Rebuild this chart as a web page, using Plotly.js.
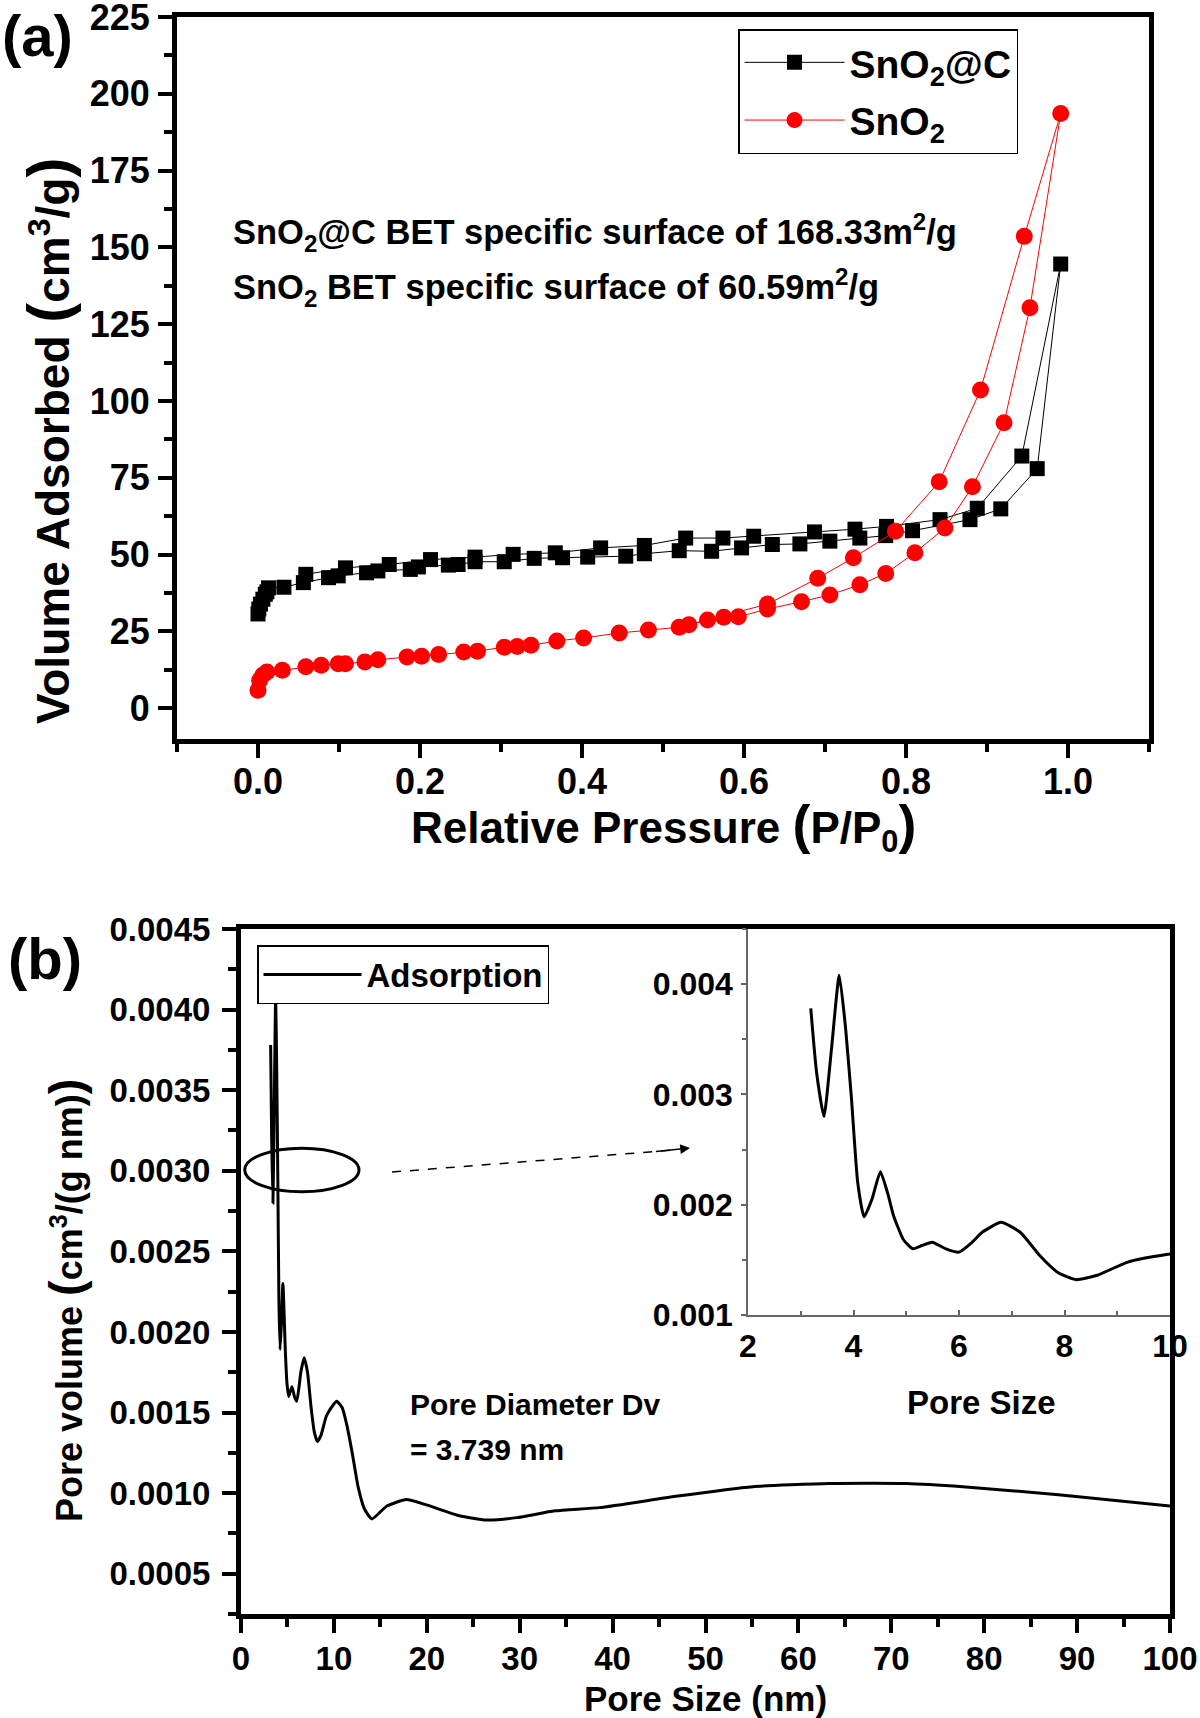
<!DOCTYPE html>
<html><head><meta charset="utf-8">
<script src="https://cdn.plot.ly/plotly-3.0.1.min.js"></script>
<style>html,body{margin:0;padding:0;background:#fff}#chart{width:1200px;height:1718px}</style>
</head><body><div id="chart"></div>
<script>
// ---------- Panel (a): N2 adsorption-desorption isotherms ----------
// SnO2@C adsorption branch
const sncAdsP = [0.000,0.001,0.003,0.006,0.009,0.011,0.013,0.032,0.056,0.087,0.099,0.134,0.148,0.188,0.198,0.235,0.247,0.268,0.304,0.341,0.376,0.407,0.454,0.477,0.520,0.560,0.597,0.635,0.669,0.706,0.743,0.775,0.808,0.879,0.917,0.962,0.991];
const sncAdsV = [30.7,32.3,33.9,35.5,37.1,37.9,39.2,39.4,40.9,42.5,43.1,44.1,44.7,45.2,46.0,46.6,46.8,47.7,47.7,48.8,49.0,49.2,49.5,50.3,51.3,51.1,52.2,53.3,53.5,54.4,55.4,56.2,57.8,61.4,64.9,78.0,144.6];
// SnO2@C desorption branch
const sncDesP = [0.943,0.888,0.842,0.776,0.737,0.687,0.612,0.574,0.528,0.477,0.423,0.367,0.315,0.268,0.213,0.162,0.108,0.059];
const sncDesV = [82.1,65.1,61.4,59.2,58.3,57.4,56.0,55.4,55.4,53.0,52.2,50.6,50.1,49.2,48.4,46.8,45.7,43.6];
// SnO2 adsorption branch
const snAdsP = [0.000,0.002,0.006,0.011,0.030,0.059,0.078,0.099,0.108,0.132,0.148,0.184,0.202,0.223,0.254,0.271,0.304,0.320,0.337,0.369,0.402,0.446,0.482,0.520,0.555,0.575,0.593,0.629,0.671,0.706,0.743,0.775,0.811,0.848,0.882,0.921,0.953,0.991];
const snAdsV = [5.9,9.1,10.8,11.8,12.4,13.5,14.0,14.5,14.5,15.1,15.8,16.7,16.9,17.5,18.3,18.6,19.9,20.1,20.5,21.9,22.9,24.5,25.5,26.4,28.7,29.6,29.8,32.3,34.7,36.9,40.2,43.9,50.6,58.7,72.1,92.9,130.4,193.6];
// SnO2 desorption branch
const snDesP = [0.946,0.892,0.841,0.787,0.735,0.691,0.629,0.532];
const snDesV = [153.6,103.6,73.7,57.6,49.0,42.3,33.9,27.2];

// ---------- Panel (b): pore size distribution ----------
const poreSize = [3.19,3.30,3.44,3.58,3.73,3.85,3.96,4.08,4.20,4.35,4.51,4.65,4.76,4.95,5.13,5.30,5.49,5.75,6.00,6.25,6.44,6.80,7.16,7.53,7.89,8.22,8.62,9.20,9.96,10.3,10.9,11.4,12.0,12.6,13.3,14.1,15.7,17.8,19.8,23.5,26.4,29.7,33.8,38.6,46.8,55.1,63.3,71.6,77.7,88.0,100.0];
const poreVolume = [0.00378,0.00320,0.00280,0.00340,0.00408,0.00360,0.00297,0.00220,0.00189,0.00205,0.00230,0.00210,0.00190,0.00168,0.00160,0.00163,0.00166,0.00160,0.00157,0.00166,0.00175,0.00184,0.00175,0.00154,0.00138,0.00132,0.00136,0.00148,0.00155,0.00157,0.00153,0.00142,0.00124,0.00104,0.00090,0.00084,0.00092,0.00096,0.00093,0.00086,0.000833,0.000848,0.00089,0.00091,0.00098,0.00104,0.00106,0.00106,0.00104,0.00099,0.00092];

// tick labels
const aXTicks = [0.0,0.2,0.4,0.6,0.8,1.0];
const aYTicks = [0,25,50,75,100,125,150,175,200,225];

// ---------- layout helpers ----------
const FONT = '"Liberation Sans", Arial, Helvetica, sans-serif';
const W = 1200, H = 1718;
const px = v => v / W;
const py = v => 1 - v / H;
const f = (size, weight) => ({family: FONT, size: size, color: '#000', weight: weight || 'bold'});

function mainAxis(extra) {
  return Object.assign({
    showline: true, mirror: true, linewidth: 5, linecolor: '#000',
    ticks: 'outside', ticklen: 14, tickwidth: 4, tickcolor: '#000',
    showgrid: false, zeroline: false, automargin: false, fixedrange: true,
    ticklabeloverflow: 'allow'
  }, extra);
}
function minor(dtick, tick0) {
  return {dtick: dtick, tick0: tick0, ticks: 'outside', ticklen: 8, tickwidth: 4, tickcolor: '#000', showgrid: false};
}

const traces = [
  {type: 'scatter', mode: 'lines+markers', name: 'SnO<sub>2</sub>@C',
   x: sncAdsP.concat(sncDesP), y: sncAdsV.concat(sncDesV), xaxis: 'x', yaxis: 'y',
   line: {color: '#000', width: 1}, marker: {symbol: 'square', size: 15, color: '#000'},
   legend: 'legend', legendgroup: 'g1', cliponaxis: false},
  {type: 'scatter', mode: 'lines+markers', name: 'SnO<sub>2</sub>',
   x: snAdsP.concat(snDesP), y: snAdsV.concat(snDesV), xaxis: 'x', yaxis: 'y',
   line: {color: '#ff0000', width: 1}, marker: {symbol: 'circle', size: 17, color: '#ff0000'},
   legend: 'legend', legendgroup: 'g2', cliponaxis: false},
  {type: 'scatter', mode: 'lines', name: 'Adsorption',
   x: poreSize, y: poreVolume, xaxis: 'x2', yaxis: 'y2',
   line: {color: '#000', width: 3, shape: 'spline', smoothing: 0.5}, legend: 'legend2'},
  {type: 'scatter', mode: 'lines', name: 'Adsorption (inset)', showlegend: false,
   x: poreSize, y: poreVolume, xaxis: 'x3', yaxis: 'y3',
   line: {color: '#000', width: 3, shape: 'spline', smoothing: 0.5}}
];

const bigParen = (s, k) => '<span style="font-size:' + (k || 1.3) + 'em">' + s + '</span>';

const layout = {
  width: W, height: H,
  margin: {l: 0, r: 0, t: 0, b: 0, pad: 0},
  paper_bgcolor: '#fff', plot_bgcolor: 'rgba(0,0,0,0)',
  showlegend: true,
  font: {family: FONT, color: '#000'},
  // ----- panel (a)
  xaxis: mainAxis({
    domain: [px(177), px(1149)], anchor: 'y', range: [-0.1, 1.1],
    tickvals: aXTicks, tickformat: '.1f', minor: minor(0.1, 0),
    tickfont: f(36), ticklabelstandoff: -7
  }),
  yaxis: mainAxis({
    domain: [py(739), py(17)], anchor: 'x', range: [-10, 225],
    tickvals: aYTicks, minor: minor(12.5, 0),
    tickfont: f(36), ticklabelstandoff: 1
  }),
  // ----- panel (b)
  xaxis2: mainAxis({
    domain: [px(241), px(1170)], anchor: 'y2', range: [0, 100],
    tick0: 0, dtick: 10, minor: minor(5, 0),
    tickfont: f(33), ticklabelstandoff: -3,
    title: {text: 'Pore Size (nm)', font: f(35), standoff: 18}
  }),
  yaxis2: mainAxis({
    domain: [py(1614), py(929)], anchor: 'x2', range: [0.00025, 0.0045],
    tick0: 0, dtick: 0.0005, tickformat: '.4f', minor: minor(0.00025, 0),
    tickfont: f(33), ticklabelstandoff: 5
  }),
  // ----- inset
  xaxis3: {
    domain: [px(748), px(1170)], anchor: 'y3', range: [2, 10],
    tick0: 2, dtick: 2, showline: true, linewidth: 1.5, linecolor: '#666', mirror: false,
    ticks: 'inside', ticklen: 5, tickwidth: 1.5, tickcolor: '#666',
    minor: {dtick: 1, tick0: 2, ticks: 'inside', ticklen: 4, tickwidth: 1.5, tickcolor: '#666'},
    showgrid: false, zeroline: false, automargin: false, fixedrange: true,
    tickfont: f(32), ticklabelstandoff: 2, ticklabeloverflow: 'allow'
  },
  yaxis3: {
    domain: [py(1315), py(929)], anchor: 'x3', range: [0.001, 0.0045],
    tick0: 0.001, dtick: 0.001, tickformat: '.3f', showline: true, linewidth: 1.5, linecolor: '#666', mirror: false,
    ticks: 'outside', ticklen: 5, tickwidth: 1.5, tickcolor: '#666',
    minor: {dtick: 0.0005, tick0: 0.001, ticks: 'outside', ticklen: 4, tickwidth: 1.5, tickcolor: '#666'},
    showgrid: false, zeroline: false, automargin: false, fixedrange: true,
    tickfont: f(32), ticklabelstandoff: 2, ticklabeloverflow: 'allow'
  },
  legend: {
    x: px(738), y: py(29), xanchor: 'left', yanchor: 'top', xref: 'paper', yref: 'paper',
    bgcolor: '#fff', bordercolor: '#000', borderwidth: 1.5,
    font: f(39), itemwidth: 100, traceorder: 'grouped', tracegroupgap: 4
  },
  legend2: {
    x: px(257), y: py(945), xanchor: 'left', yanchor: 'top', xref: 'paper', yref: 'paper',
    bgcolor: '#fff', bordercolor: '#000', borderwidth: 1.5,
    font: f(33), itemwidth: 98
  },
  shapes: [
    // ellipse highlighting the low pore-size region
    {type: 'circle', xref: 'x2', yref: 'y2', x0: 0.4, x1: 12.7, y0: 0.00287, y1: 0.00314,
     line: {color: '#000', width: 3}},
    // dashed pointer line toward the inset
    {type: 'line', xref: 'x2', yref: 'y2', x0: 16.25, y0: 0.002992, x1: 46.5, y1: 0.003128,
     line: {color: '#000', width: 1.5, dash: 'dash'}}
  ],
  annotations: [
    {xref: 'paper', yref: 'paper', x: 0, y: py(36), xanchor: 'left', yanchor: 'middle',
     text: '(a)', showarrow: false, font: f(58)},
    {xref: 'paper', yref: 'paper', x: px(6), y: py(958), xanchor: 'left', yanchor: 'middle',
     text: '(b)', showarrow: false, font: f(58)},
    // panel (a) axis titles
    {xref: 'paper', yref: 'paper', x: px(663), y: py(826), xanchor: 'center', yanchor: 'middle',
     text: 'Relative Pressure ' + bigParen('(', 1.22) + 'P/P<sub>0</sub>' + bigParen(')', 1.22), showarrow: false, font: f(44)},
    {xref: 'paper', yref: 'paper', x: px(48), y: py(441), xanchor: 'center', yanchor: 'middle', textangle: -90,
     text: 'Volume Adsorbed ' + bigParen('(') + 'cm<sup>3</sup>/g' + bigParen(')'), showarrow: false, font: f(46)},
    // panel (a) BET notes
    {xref: 'paper', yref: 'paper', x: px(231), y: py(232), xanchor: 'left', yanchor: 'middle',
     text: 'SnO<sub>2</sub>@C BET specific surface of 168.33m<sup>2</sup>/g', showarrow: false, font: f(34.5)},
    {xref: 'paper', yref: 'paper', x: px(231), y: py(287), xanchor: 'left', yanchor: 'middle',
     text: 'SnO<sub>2</sub> BET specific surface of 60.59m<sup>2</sup>/g', showarrow: false, font: f(34.5)},
    // panel (b) notes
    {xref: 'paper', yref: 'paper', x: px(408), y: py(1404), xanchor: 'left', yanchor: 'middle',
     text: 'Pore Diameter Dv', showarrow: false, font: f(30)},
    {xref: 'paper', yref: 'paper', x: px(408), y: py(1449), xanchor: 'left', yanchor: 'middle',
     text: '= 3.739 nm', showarrow: false, font: f(30)},
    {xref: 'paper', yref: 'paper', x: px(981), y: py(1402), xanchor: 'center', yanchor: 'middle',
     text: 'Pore Size', showarrow: false, font: f(33)},
    {xref: 'paper', yref: 'paper', x: px(66), y: py(1301), xanchor: 'center', yanchor: 'middle', textangle: -90,
     text: 'Pore volume ' + bigParen('(') + 'cm<sup>3</sup>/(g nm)' + bigParen(')'), showarrow: false, font: f(36)},
    // arrow head of the dashed pointer
    {xref: 'x2', yref: 'y2', axref: 'x2', ayref: 'y2', x: 48.33, y: 0.003141, ax: 44.5, ay: 0.003118,
     text: '', showarrow: true, arrowhead: 2, arrowsize: 1.3, arrowwidth: 1.5, arrowcolor: '#000'}
  ]
};

Plotly.newPlot('chart', traces, layout, {displayModeBar: false, responsive: false});
</script>
</body></html>
